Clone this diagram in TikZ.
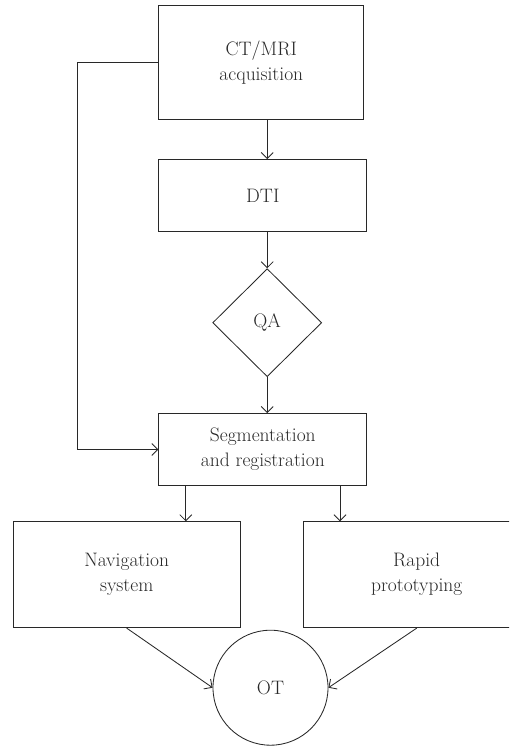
\documentclass[tikz,border=0pt]{standalone}
\usetikzlibrary{arrows.meta,shapes.geometric,calc}
\definecolor{ink}{RGB}{40,40,40}
\begin{document}
\begin{tikzpicture}[x=1pt,y=-1pt,
  line width=0.85pt,
  every node/.style={text=ink},
  boxnode/.style={draw=ink, rectangle, align=center, inner sep=0pt,
    font=\fontsize{19.5}{25}\selectfont},
  decide/.style={draw=ink, diamond, inner sep=0pt, minimum width=109pt,
    minimum height=108pt, font=\fontsize{19.5}{25}\selectfont},
  endnode/.style={draw=ink, circle, inner sep=0pt, minimum size=115pt,
    font=\fontsize{19.5}{25}\selectfont},
  arr/.style={draw=ink, -{Straight Barb[length=6pt,width=12pt]}}]
\useasboundingbox (0,0) rectangle (509,746);
\clip (0,0) rectangle (509,746);
\node[boxnode, minimum width=205pt, minimum height=114pt] (ct) at (261.3,62.9) {CT/MRI\\acquisition};
\node[boxnode, minimum width=208pt, minimum height=72pt] (dti) at (262.8,195.5) {DTI};
\node[decide] (qa) at (267.2,322.7) {QA};
\node[boxnode, minimum width=208pt, minimum height=72pt] (seg) at (262.8,449.5) {Segmentation\\and registration};
\node[boxnode, minimum width=227pt, minimum height=106pt] (nav) at (126.7,574.7) {Navigation\\system};
\node[boxnode, minimum width=227pt, minimum height=106pt] (rp) at (416.7,574.7) {Rapid\\prototyping};
\node[endnode] (ot) at (270.5,687.7) {OT};
\draw[arr] (ct.south -| qa.north) -- (dti.north -| qa.north);
\draw[arr] (dti.south -| qa.north) -- (qa.north);
\draw[arr] (qa.south) -- (seg.north -| qa.south);
\draw[arr] (ct.west) -- ++(-81.4,0) |- (seg.west);
\coordinate (sl) at ($(seg.south)+(-77,0)$);
\coordinate (sr) at ($(seg.south)+(77.2,0)$);
\draw[arr] (sl) -- (sl |- nav.north);
\draw[arr] (sr) -- (sr |- rp.north);
\draw[arr] (nav.south) -- (ot.west);
\draw[arr] (rp.south) -- (ot.east);
\end{tikzpicture}
\end{document}
